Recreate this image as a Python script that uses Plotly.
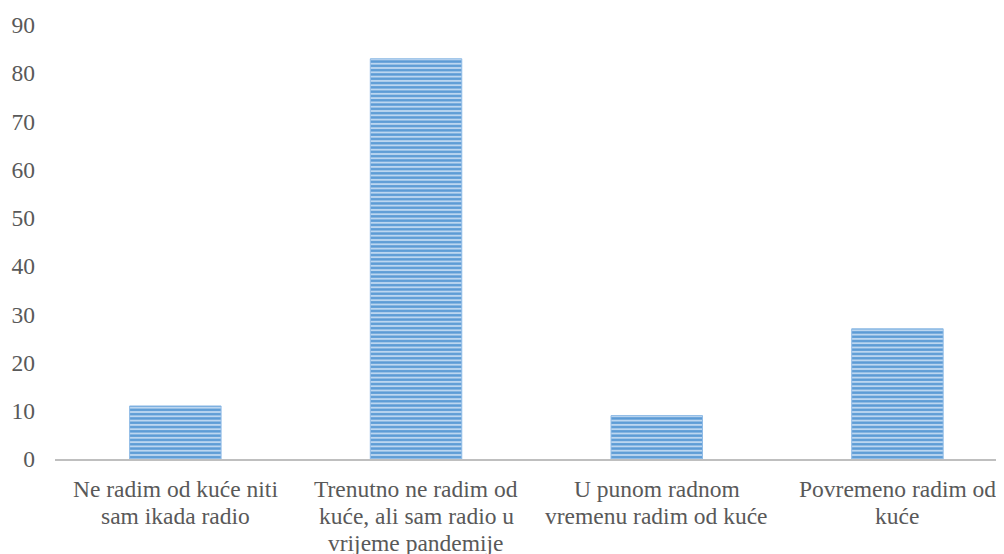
import plotly.graph_objects as go

categories = [
    ["Ne radim od kuće niti", "sam ikada radio"],
    ["Trenutno ne radim od", "kuće, ali sam radio u", "vrijeme pandemije"],
    ["U punom radnom", "vremenu radim od kuće"],
    ["Povremeno radim od", "kuće"],
]
values = [11, 83, 9, 27]
y_ticks = [0, 10, 20, 30, 40, 50, 60, 70, 80, 90]

xs = list(range(len(categories)))

fig = go.Figure()
fig.add_trace(go.Bar(
    x=xs,
    y=values,
    width=0.38,
    marker=dict(
        color="#9dc3e6",
        line=dict(color="#8fbbe6", width=1),
        pattern=dict(shape="-", fgcolor="#5b9bd5", bgcolor="#bcd6f0",
                     size=4.3, solidity=0.55, fillmode="replace"),
    ),
))

font = dict(family="Liberation Serif, Times New Roman, serif", size=23.5, color="#595959")

for i, lines in enumerate(categories):
    for j, line in enumerate(lines):
        fig.add_annotation(
            x=xs[i], y=0, xref="x", yref="y",
            text=line, showarrow=False,
            yanchor="middle", xanchor="center",
            yshift=-(30 + 27 * j),
            font=font,
        )

fig.update_layout(
    width=1004, height=554,
    margin=dict(l=47, r=0, t=17, b=103),
    plot_bgcolor="white", paper_bgcolor="white",
    showlegend=False,
    font=font,
    xaxis=dict(
        range=[-0.5, 3.476],
        tickvals=xs,
        showticklabels=False,
        showgrid=False, zeroline=False,
        showline=True, linecolor="#bfbfbf", linewidth=2,
        ticks="", automargin=False,
    ),
    yaxis=dict(
        range=[0, 90],
        tickvals=y_ticks,
        showgrid=False, zeroline=False, showline=False,
        ticks="", tickfont=font, ticklabelstandoff=19,
        automargin=False,
    ),
)
fig.write_html("out.html")
